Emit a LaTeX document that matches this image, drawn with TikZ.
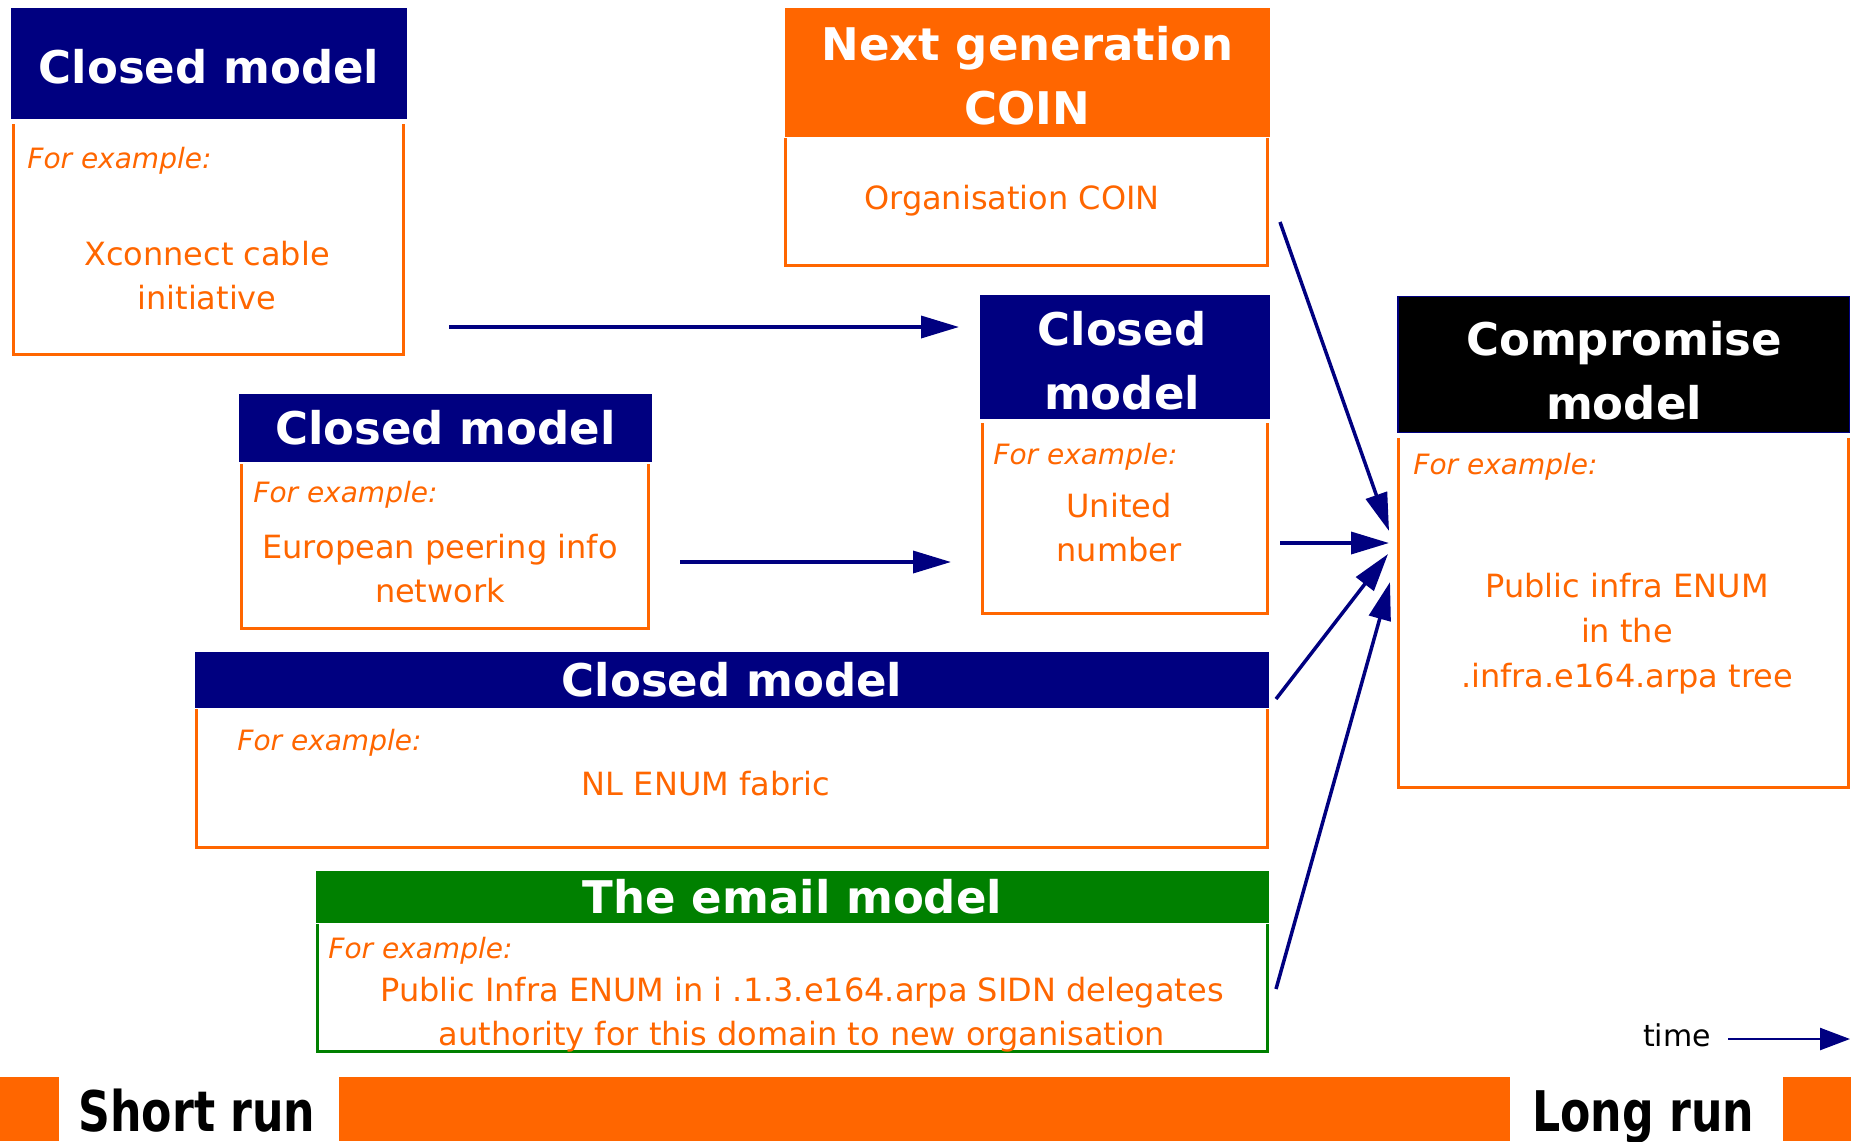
\documentclass[tikz,border=0pt]{standalone}
\usepackage{fontspec}
\setmainfont{DejaVu Sans}
\usetikzlibrary{arrows.meta}
\definecolor{navyblue}{RGB}{0,0,128}
\definecolor{orangeline}{RGB}{255,102,0}
\definecolor{greenline}{RGB}{0,128,0}

\begin{document}
\begin{tikzpicture}[x = 0.5pt, y = -0.5pt]
\tikzstyle{headStyle} = [shape = rectangle, inner sep = 0pt, text = white, font = \fontsize{22.5}{32}\selectfont\bfseries, align = center]
\tikzstyle{bodyStyle} = [shape = rectangle, inner sep = 0pt]
\tikzstyle{bodyLine} = [draw = orangeline, line width = 1.5pt]
\tikzstyle{exampleStyle} = [anchor = west, inner sep = 0pt, yshift = -1.75pt, text = orangeline, font = \fontsize{14}{16}\selectfont\itshape]
\tikzstyle{textStyle} = [inner sep = 0pt, text = orangeline, font = \fontsize{16}{22}\selectfont, align = center]
\tikzstyle{runStyle} = [inner sep = 0pt, anchor = base, font = \fontsize{28}{28}\selectfont\bfseries]
\tikzstyle{arrowStyle} = [draw = navyblue, line width = 1.75pt, -{Triangle[length = 19pt, width = 11pt]}]
\useasboundingbox (0,0) rectangle (1851,1141);
\node[headStyle, fill = navyblue, minimum width = 198pt, minimum height = 55.5pt] (head1) at (209,63.5) {};
\node[headStyle] (title1) at (209,67) {Closed model};
\node[bodyStyle, minimum width = 195pt, minimum height = 115pt] (body1) at (208.5,239.5) {};
\draw[bodyLine] (body1.north west) -- (body1.south west) -- (body1.south east) -- (body1.north east);
\node[exampleStyle] (ex1) at (27,157) {For example:};
\node[textStyle] (txt1) at (207,276) {Xconnect cable\\initiative};
\node[headStyle, fill = orangeline, minimum width = 242.5pt, minimum height = 64.5pt] (headCoin) at (1027.5,72.5) {};
\node[headStyle] (titleCoin) at (1027.5,76) {Next generation\\COIN};
\node[bodyStyle, minimum width = 241pt, minimum height = 63.5pt] (bodyCoin) at (1026.5,202) {};
\draw[bodyLine] (bodyCoin.north west) -- (bodyCoin.south west) -- (bodyCoin.south east) -- (bodyCoin.north east);
\node[textStyle] (txtCoin) at (1012,200.5) {Organisation COIN};
\node[headStyle, fill = navyblue, minimum width = 145pt, minimum height = 62pt] (headUn) at (1125,357) {};
\node[headStyle] (titleUn) at (1122,361) {Closed\\model};
\node[bodyStyle, minimum width = 142.5pt, minimum height = 95pt] (bodyUn) at (1125,518.5) {};
\draw[bodyLine] (bodyUn.north west) -- (bodyUn.south west) -- (bodyUn.south east) -- (bodyUn.north east);
\node[exampleStyle] (exUn) at (993,453) {For example:};
\node[textStyle] (txtUn) at (1119,528) {United\\number};
\node[headStyle, fill = black, draw = navyblue, line width = 0.75pt, minimum width = 225.75pt, minimum height = 68pt] (headComp) at (1623.5,364.5) {};
\node[headStyle] (titleComp) at (1624,371) {Compromise\\model};
\node[bodyStyle, minimum width = 225pt, minimum height = 174.5pt] (bodyComp) at (1623.5,613) {};
\draw[bodyLine] (bodyComp.north west) -- (bodyComp.south west) -- (bodyComp.south east) -- (bodyComp.north east);
\node[exampleStyle] (exComp) at (1413,463) {For example:};
\node[textStyle, font = \fontsize{16}{22.5}\selectfont] (txtComp) at (1627,634) {Public infra ENUM\\in the\\.infra.e164.arpa tree};
\node[headStyle, fill = navyblue, minimum width = 206.5pt, minimum height = 34pt] (headEpin) at (445.5,428) {Closed model};
\node[bodyStyle, minimum width = 203.5pt, minimum height = 82pt] (bodyEpin) at (445,546.5) {};
\draw[bodyLine] (bodyEpin.north west) -- (bodyEpin.south west) -- (bodyEpin.south east) -- (bodyEpin.north east);
\node[exampleStyle] (exEpin) at (253,491) {For example:};
\node[textStyle] (txtEpin) at (440,569) {European peering info\\network};
\node[headStyle, fill = navyblue, minimum width = 537pt, minimum height = 28pt] (headNl) at (732,680) {Closed model};
\node[bodyStyle, minimum width = 535.5pt, minimum height = 69pt] (bodyNl) at (732,778.5) {};
\draw[bodyLine] (bodyNl.north west) -- (bodyNl.south west) -- (bodyNl.south east) -- (bodyNl.north east);
\node[exampleStyle] (exNl) at (237,739) {For example:};
\node[textStyle] (txtNl) at (706,784) {NL ENUM fabric};
\node[headStyle, fill = greenline, minimum width = 476.5pt, minimum height = 26pt] (headMail) at (792.5,897) {The email model};
\node[bodyStyle, minimum width = 475pt, minimum height = 63.5pt] (bodyMail) at (792.5,988) {};
\draw[bodyLine, draw = greenline] (bodyMail.north west) -- (bodyMail.south west) -- (bodyMail.south east) -- (bodyMail.north east);
\node[exampleStyle] (exMail) at (328,947) {For example:};
\node[textStyle] (txtMail) at (802,1014.5) {Public Infra ENUM in i .1.3.e164.arpa SIDN delegates\\authority for this domain to new organisation};
\fill[orangeline] (0,1077) rectangle (59,1141);
\fill[orangeline] (339,1077) rectangle (1510,1141);
\fill[orangeline] (1783,1077) rectangle (1851,1141);
\node[runStyle] (shortRun) at (197,1131) {\scalebox{0.79}[1]{Short run}};
\node[runStyle] (longRun) at (1643,1131) {\scalebox{0.79}[1]{Long run}};
\node[inner sep = 0pt, font = \fontsize{15}{15}\selectfont] (timeLabel) at (1677,1035) {time};
\coordinate (a1s) at (449,327);
\coordinate (a1e) at (959,327);
\coordinate (a2s) at (680,562);
\coordinate (a2e) at (951,562);
\coordinate (a3s) at (1280,222);
\coordinate (a3e) at (1389,531);
\coordinate (a4s) at (1280,543);
\coordinate (a4e) at (1389,543);
\coordinate (a5s) at (1276,699);
\coordinate (a5e) at (1388,554);
\coordinate (a6s) at (1276,989);
\coordinate (a6e) at (1390,582);
\coordinate (timeS) at (1728,1039);
\coordinate (timeE) at (1850,1039);
\draw[arrowStyle] (a1s) -- (a1e);
\draw[arrowStyle] (a2s) -- (a2e);
\draw[arrowStyle] (a3s) -- (a3e);
\draw[arrowStyle] (a4s) -- (a4e);
\draw[arrowStyle] (a5s) -- (a5e);
\draw[arrowStyle] (a6s) -- (a6e);
\draw[draw = navyblue, line width = 1.2pt, -{Triangle[length = 15pt, width = 11pt]}] (timeS) -- (timeE);
\end{tikzpicture}
\end{document}
